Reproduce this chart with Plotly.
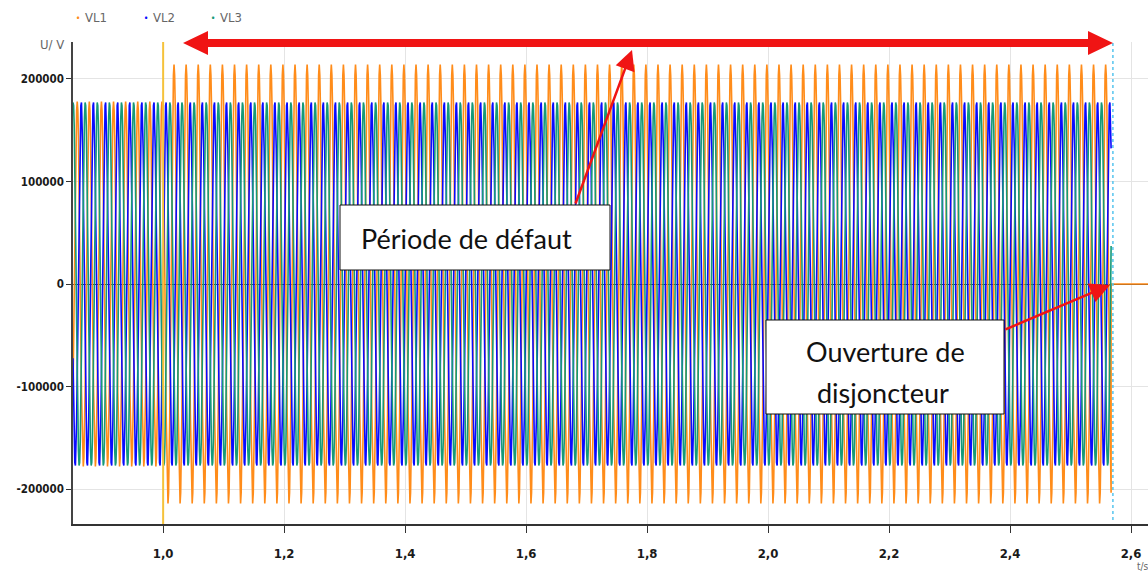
import numpy as np
import plotly.graph_objects as go

# ---- data ----
series_names = ["VL1", "VL2", "VL3"]
series_colors = ["#ff8c1a", "#0a0aff", "#169a78"]
segment_bounds = [0.851, 1.0, 2.567]      # start, fault, breaker opening (s)
t_end_plot = 2.628
amp_before = [178000, 178000, 178000]     # peak voltage before fault (V)
amp_fault = [214000, 178000, 178000]      # peak voltage during fault (V)
phase_deg = [0, -120, 120]
freq_hz = 50
peak_time_ref = 0.018                     # time of a VL1 positive peak (s)
sample_step = 0.001

x_tick_vals = [1.0, 1.2, 1.4, 1.6, 1.8, 2.0, 2.2, 2.4, 2.6]
x_tick_text = ["1,0", "1,2", "1,4", "1,6", "1,8", "2,0", "2,2", "2,4", "2,6"]
y_tick_vals = [-200000, -100000, 0, 100000, 200000]
y_tick_text = ["-200000", "-100000", "0", "100000", "200000"]

# ---- build waveforms ----
t = np.arange(segment_bounds[0], segment_bounds[2] + 1e-9, sample_step)
fig = go.Figure()
for i, name in enumerate(series_names):
    amp = np.where(t < segment_bounds[1], amp_before[i], amp_fault[i])
    v = amp * np.cos(2 * np.pi * freq_hz * (t - peak_time_ref) + np.deg2rad(phase_deg[i]))
    tt, vv = t, v
    if i == 0:  # VL1 goes to zero after breaker opening
        tt = np.concatenate([t, [segment_bounds[2], t_end_plot]])
        vv = np.concatenate([v, [0, 0]])
    fig.add_trace(go.Scatter(x=tt, y=vv, mode="lines", name=name,
                             line=dict(color=series_colors[i], width=1.6),
                             showlegend=False, hoverinfo="skip"))

W, H = 1148, 574
L, R, T, B = 73, 0, 42, 50
PW, PH = W - L - R, H - T - B


def px(x):
    return (x - L) / PW


def py(y):
    return (H - B - y) / PH


shapes = []
annotations = []

# fault marker and breaker opening marker
shapes.append(dict(type="line", xref="x", yref="paper", x0=1.0, x1=1.0, y0=0, y1=1,
                   line=dict(color="#f5c23a", width=2), layer="above"))
shapes.append(dict(type="line", xref="x", yref="paper", x0=2.57, x1=2.57, y0=py(520), y1=1,
                   line=dict(color="#55c4ee", width=1.5, dash="dot"), layer="above"))

# red double arrow
cy = 43
pts = [(183, cy), (208, cy - 12), (208, cy - 4), (1088, cy - 4), (1088, cy - 12), (1113, cy),
       (1088, cy + 12), (1088, cy + 4), (208, cy + 4), (208, cy + 12)]
path = "M " + " L ".join(f"{px(a):.5f},{py(b):.5f}" for a, b in pts) + " Z"
shapes.append(dict(type="path", xref="paper", yref="paper", path=path,
                   fillcolor="#f01414", line=dict(color="#f01414", width=0), layer="above"))

# text boxes
shapes.append(dict(type="rect", xref="paper", yref="paper", x0=px(340), x1=px(610), y0=py(270), y1=py(205),
                   fillcolor="white", line=dict(color="#111", width=1), layer="above"))
shapes.append(dict(type="rect", xref="paper", yref="paper", x0=px(766), x1=px(1004), y0=py(414), y1=py(320),
                   fillcolor="white", line=dict(color="#111", width=1), layer="above"))

box_font = dict(family="Lato, Carlito, Open Sans, sans-serif", size=27, color="#111")
annotations.append(dict(xref="paper", yref="paper", x=px(466), y=py(238), text="Période de défaut",
                        showarrow=False, font=box_font, xanchor="center", yanchor="middle"))
annotations.append(dict(xref="paper", yref="paper", x=px(885), y=py(352),
                        text="Ouverture de", showarrow=False,
                        font=box_font, xanchor="center", yanchor="middle"))
annotations.append(dict(xref="paper", yref="paper", x=px(883), y=py(392),
                        text="disjoncteur", showarrow=False,
                        font=box_font, xanchor="center", yanchor="middle"))

# arrows pointing
annotations.append(dict(xref="paper", yref="paper", x=px(632), y=py(50), ax=575 - 632, ay=205 - 50,
                        text="", showarrow=True, arrowhead=2, arrowsize=1.6, arrowwidth=2.5,
                        arrowcolor="#f01414"))
annotations.append(dict(xref="paper", yref="paper", x=px(1110), y=py(285), ax=1004 - 1110, ay=330 - 285,
                        text="", showarrow=True, arrowhead=2, arrowsize=1.6, arrowwidth=2.5,
                        arrowcolor="#f01414"))

# legend (top)
leg_font = dict(family="DejaVu Sans Condensed, Liberation Sans Narrow, sans-serif",
                size=13, color="#666")
for i, (name, xpos) in enumerate(zip(series_names, [78, 146, 213])):
    annotations.append(dict(xref="paper", yref="paper", x=px(xpos), y=py(18), text="•",
                            showarrow=False, font=dict(size=11, color=series_colors[i]),
                            xanchor="center", yanchor="middle"))
    annotations.append(dict(xref="paper", yref="paper", x=px(xpos + 5), y=py(18), text=name,
                            showarrow=False, font=leg_font, xanchor="left", yanchor="middle"))

# axis titles
annotations.append(dict(xref="paper", yref="paper", x=px(66), y=py(45), text="U/ V",
                        showarrow=False, font=leg_font, xanchor="right", yanchor="middle"))
annotations.append(dict(xref="paper", yref="paper", x=px(1135), y=py(566), text="t/s",
                        showarrow=False, font=dict(family=leg_font["family"], size=10, color="#666"),
                        xanchor="left", yanchor="middle"))

tick_font = dict(family="DejaVu Sans Condensed, Liberation Sans Narrow, sans-serif",
                 size=11.5, color="#1a1a1a", weight="bold")
xtick_font = dict(tick_font, size=13)

fig.update_layout(
    width=W, height=H,
    margin=dict(l=L, r=R, t=T, b=B, autoexpand=False),
    paper_bgcolor="white", plot_bgcolor="white",
    showlegend=False,
    shapes=shapes, annotations=annotations,
    xaxis=dict(range=[0.851, t_end_plot], tickvals=x_tick_vals, ticktext=x_tick_text,
               automargin=False, ticklabelstandoff=10,
               showgrid=True, gridcolor="#e4e4e4", gridwidth=1,
               showline=True, linecolor="#333", linewidth=1.5,
               ticks="outside", ticklen=7, tickcolor="#333", tickfont=xtick_font,
               zeroline=False),
    yaxis=dict(range=[-234000, 236000], tickvals=y_tick_vals, ticktext=y_tick_text,
               automargin=False,
               showgrid=True, gridcolor="#e4e4e4", gridwidth=1,
               showline=True, linecolor="#444", linewidth=1.5,
               ticks="outside", ticklen=5, tickcolor="#333", tickfont=tick_font,
               zeroline=True, zerolinecolor="#333", zerolinewidth=1),
)

fig.write_html("out.html", config={"displayModeBar": False},
               post_script="document.body.style.margin='0';document.body.style.padding='0';")
